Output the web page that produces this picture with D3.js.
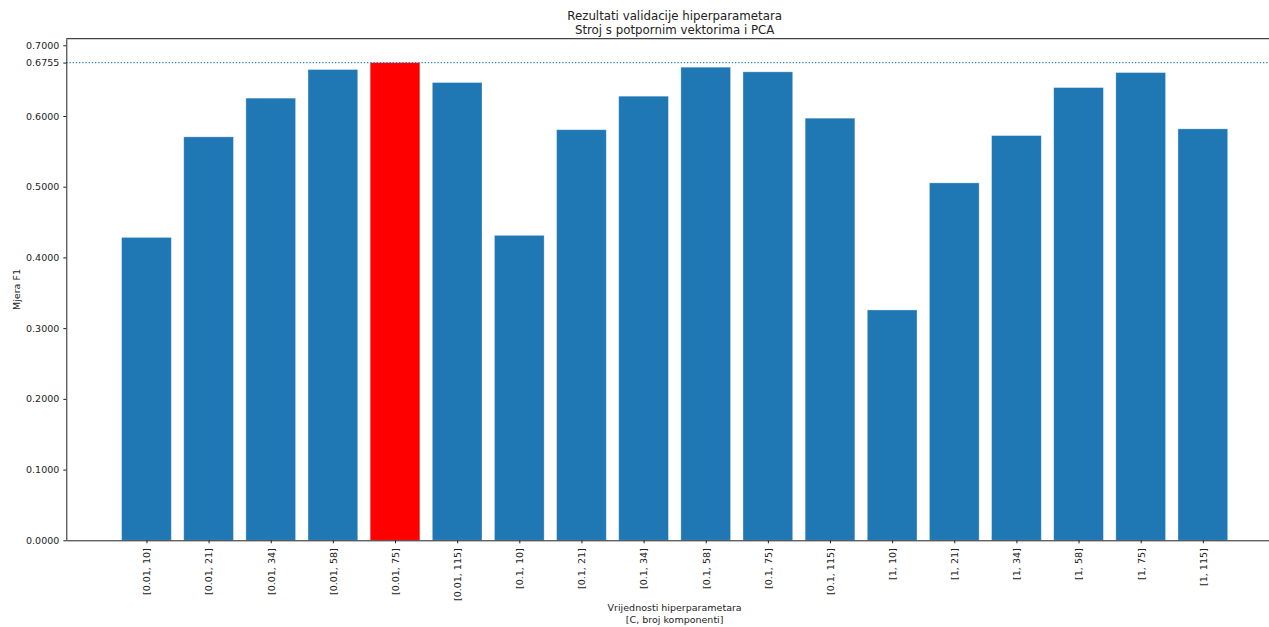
<!DOCTYPE html>
<html>
<head>
<meta charset="utf-8">
<script src="https://cdn.jsdelivr.net/npm/d3@7"></script>
<style>
  html, body { margin: 0; padding: 0; background: #fff; }
  svg { display: block; overflow: hidden; }
  text { font-family: "DejaVu Sans", sans-serif; fill: #222; }
</style>
</head>
<body>
<svg id="chart" width="1269" height="627"></svg>
<script>
// Hyperparameter combinations [C, number of PCA components]
const categories = [
  "[0.01, 10]", "[0.01, 21]", "[0.01, 34]", "[0.01, 58]", "[0.01, 75]", "[0.01, 115]",
  "[0.1, 10]", "[0.1, 21]", "[0.1, 34]", "[0.1, 58]", "[0.1, 75]", "[0.1, 115]",
  "[1, 10]", "[1, 21]", "[1, 34]", "[1, 58]", "[1, 75]", "[1, 115]"
];
// Mean F1 score for each combination
const f1Scores = [
  0.4283, 0.5705, 0.6252, 0.6657, 0.6755, 0.6473,
  0.4312, 0.5806, 0.6280, 0.6690, 0.6624, 0.5969,
  0.3257, 0.5054, 0.5723, 0.6402, 0.6614, 0.5818
];
const bestScore = 0.6755;
const yTickValues = [0, 0.1, 0.2, 0.3, 0.4, 0.5, 0.6, 0.7, bestScore];

const titleLines = ["Rezultati validacije hiperparametara", "Stroj s potpornim vektorima i PCA"];
const xLabelLines = ["Vrijednosti hiperparametara", "[C, broj komponenti]"];
const yLabel = "Mjera F1";

const svg = d3.select("#chart");
const plot = { left: 66.3, right: 1283, top: 38.7, bottom: 540.3 };

const barWidth = 0.8;
const n = categories.length;
const pad = 0.05 * (n - 1 + barWidth);
const x = d3.scaleLinear()
  .domain([-barWidth / 2 - pad, n - 1 + barWidth / 2 + pad])
  .range([plot.left, plot.right]);
const y = d3.scaleLinear()
  .domain([0, d3.max(f1Scores) * 1.05])
  .range([plot.bottom, plot.top]);

const bestIndex = f1Scores.indexOf(d3.max(f1Scores));

// Bars
svg.append("g").selectAll("rect")
  .data(f1Scores)
  .join("rect")
  .attr("x", (d, i) => x(i - barWidth / 2))
  .attr("width", (d, i) => x(i + barWidth / 2) - x(i - barWidth / 2))
  .attr("y", d => y(d))
  .attr("height", d => y(0) - y(d))
  .attr("fill", (d, i) => i === bestIndex ? "#ff0000" : "#1f77b4")
  .attr("stroke", "#ffffff")
  .attr("stroke-opacity", 0.4)
  .attr("stroke-width", 0.8);

// Reference line at the best score
svg.append("line")
  .attr("x1", plot.left).attr("x2", plot.right)
  .attr("y1", y(bestScore)).attr("y2", y(bestScore))
  .attr("stroke", "#1f77b4")
  .attr("stroke-width", 1.2)
  .attr("stroke-dasharray", "1.2,2");

// Y axis
const yAxis = svg.append("g")
  .attr("transform", `translate(${plot.left},0)`)
  .call(d3.axisLeft(y).tickValues(yTickValues).tickFormat(d3.format(".4f")).tickSize(3).tickPadding(4).tickSizeOuter(0));
yAxis.select(".domain").attr("stroke", "#222");
yAxis.selectAll(".tick line").attr("stroke", "#222");
yAxis.selectAll("text").style("font-size", "9.5px").attr("fill", "#222");

// X axis with rotated category labels
const xAxis = svg.append("g")
  .attr("transform", `translate(0,${plot.bottom})`)
  .call(d3.axisBottom(x).tickValues(d3.range(n)).tickFormat(i => categories[i]).tickSize(3).tickSizeOuter(0));
xAxis.select(".domain").attr("stroke", "#222");
xAxis.selectAll(".tick line").attr("stroke", "#222");
xAxis.selectAll("text")
  .style("font-size", "9.5px")
  .attr("fill", "#222")
  .attr("text-anchor", "end")
  .attr("transform", "rotate(-90)")
  .attr("x", -8)
  .attr("y", 0)
  .attr("dy", "0.35em");

// Top spine
svg.append("line")
  .attr("x1", plot.left).attr("x2", plot.right)
  .attr("y1", plot.top).attr("y2", plot.top)
  .attr("stroke", "#444").attr("stroke-width", 1.2);

// Right spine (beyond the visible area)
svg.append("line")
  .attr("x1", plot.right).attr("x2", plot.right)
  .attr("y1", plot.top).attr("y2", plot.bottom)
  .attr("stroke", "#222").attr("stroke-width", 1);

// Title
const cx = (plot.left + plot.right) / 2;
svg.append("g").selectAll("text")
  .data(titleLines)
  .join("text")
  .attr("x", cx)
  .attr("y", (d, i) => 20 + i * 13.5)
  .attr("text-anchor", "middle")
  .style("font-size", "11.8px")
  .text(d => d);

// X axis label
svg.append("g").selectAll("text")
  .data(xLabelLines)
  .join("text")
  .attr("x", cx)
  .attr("y", (d, i) => 611 + i * 11.5)
  .attr("text-anchor", "middle")
  .style("font-size", "9.5px")
  .text(d => d);

// Y axis label
svg.append("text")
  .attr("transform", `translate(20,${(plot.top + plot.bottom) / 2}) rotate(-90)`)
  .attr("text-anchor", "middle")
  .style("font-size", "9.5px")
  .text(yLabel);
</script>
</body>
</html>
